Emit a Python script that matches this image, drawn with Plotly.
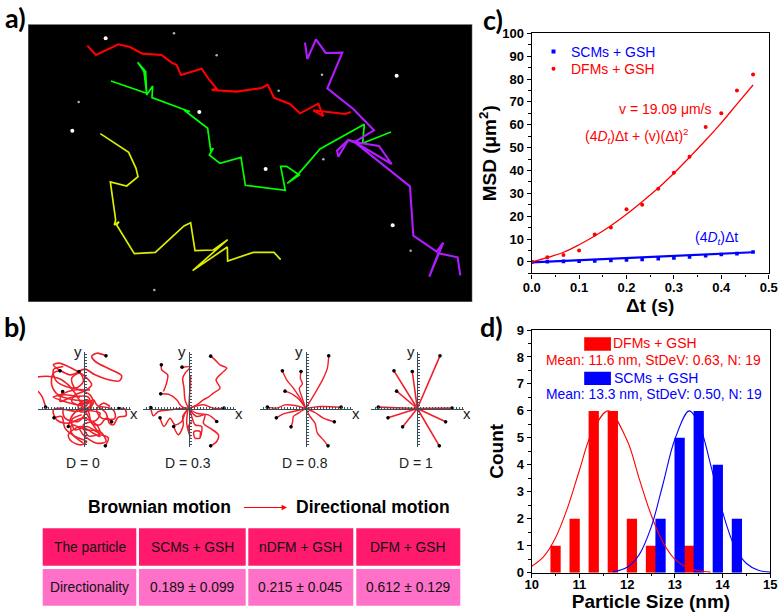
import plotly.graph_objects as go

W, H = 779, 612
SANS = "Liberation Sans"
RED, BLUE = "#FF0000", "#0000FF"

# ---------- panel a: trajectories, in reference-image coordinates ----------
track_red = [(262,137),(288,165),(355,133),(390,141),(427,161),(485,165),(515,188),(530,195),(543,225),(605,206),(628,240),(650,266),(635,270),(710,275),(785,264),(803,254),(822,293),(870,312),(900,340),(955,311),(970,348),(940,331),(1035,342),(1053,336)]
track_green = [(333,243),(440,280),(432,215),(413,187),(437,215),(440,285),(458,258),(456,293),(550,328),(570,335),(552,330),(623,385),(632,450),(640,445),(628,465),(660,490),(723,472),(736,556),(856,571),(842,499),(860,499),(898,525),(862,550),(897,520),(960,447),(1093,373),(1088,430),(1173,396)]
track_yellow = [(301,401),(386,457),(408,505),(414,530),(380,558),(331,546),(347,660),(343,675),(357,665),(350,675),(403,761),(466,757),(552,678),(572,668),(585,752),(640,750),(683,719),(578,812),(682,741),(683,783),(760,757),(822,757),(842,779)]
track_purple = [(915,128),(922,177),(948,118),(977,159),(1027,158),(982,265),(1060,327),(1122,391),(1062,427),(1045,420),(1015,470),(1011,452),(1045,420),(1085,430),(1137,438),(1175,492),(1062,425),(1230,559),(1240,707),(1310,755),(1330,728),(1288,830),(1315,760),(1373,772),(1381,826)]
stars_big = [(317,115),(217,392),(797,507),(1178,676),(598,336),(1190,227)]
stars_small = [(522,100),(650,166),(836,272),(966,224),(236,306),(970,478),(1232,752),(463,870)]

# ---------- panel b: simulated paths, endpoint first ----------
d0_paths = [
 [(318,138),(290,130),(275,140),(290,158),(330,178),(365,198),(358,213),(320,208),(285,195),(255,178),(237,185)],
 [(237,185),(210,195),(160,165),(175,160),(215,175),(255,200),(275,225),(250,245),(225,255),(215,275),(250,290)],
 [(137,292),(125,258),(100,228),(95,208),(125,200),(175,205),(205,225),(225,250),(252,296)],
 [(180,183),(160,190),(155,225),(175,255),(205,245),(235,240),(270,255),(280,280),(260,296)],
 [(188,245),(180,275),(215,262),(265,262),(270,290),(230,305),(190,300),(195,325),(235,335),(255,310),(252,296)],
 [(356,296),(375,298),(378,318),(355,322),(340,345),(328,340),(318,310),(290,285),(280,270),(252,296)],
 [(335,336),(318,325),(300,345),(275,340),(265,305),(252,296)],
 [(162,324),(185,320),(195,355),(225,380),(260,395),(245,405),(215,395),(205,375),(240,350),(280,370),(300,380),(270,330),(252,296)],
 [(205,350),(215,320),(240,295),(252,296)],
 [(316,408),(325,385),(300,375),(265,378),(250,345),(290,330),(300,310),(260,300),(252,296)],
]
d0_extra = [
 [(250,400),(215,370),(215,345),(255,360),(300,365),(318,395),(290,400),(250,375),(235,350)],
 [(175,258),(220,270),(270,275),(240,285),(185,272),(160,262),(190,255),(240,262)],
 [(190,170),(160,180),(170,215),(225,235),(250,215),(240,190),(215,205),(225,235),(270,240)],
 [(300,290),(340,300),(345,325),(305,325),(290,300),(310,280),(330,290)],
 [(235,285),(275,275),(270,300),(240,305),(235,285),(262,270),(275,290),(245,298)],
 [(190,295),(160,300),(170,330),(205,340),(250,325),(290,345),(300,370),(260,350),(225,360),(215,330),(245,315)],
]
d3_paths = [
 [(632,139),(645,150),(660,165),(680,175),(665,190),(648,210),(660,235),(640,250),(625,262),(610,270),(590,285),(566,296)],
 [(546,172),(570,172),(555,190),(548,205),(552,235),(555,270),(566,296)],
 [(484,165),(485,180),(503,195),(498,225),(490,245)],
 [(482,252),(510,255),(530,270),(545,290),(566,296)],
 [(452,293),(460,318),(475,305),(510,300),(540,296),(566,296)],
 [(480,324),(492,350),(510,325),(525,345),(545,335),(555,310),(566,296)],
 [(521,350),(535,375),(550,345),(548,320),(566,296)],
 [(632,408),(650,395),(655,375),(630,355),(610,340),(615,315),(590,320),(566,296)],
 [(650,335),(625,315),(590,310),(566,296)],
 [(672,295),(640,295),(610,285),(566,296)],
]
d3_extra = [[(600,385),(585,385),(582,365),(600,365),(600,385),(605,350),(585,345),(575,320),(566,296),(560,340),(570,380),(565,350),(575,335)],
            [(572,220),(570,240),(572,200),(566,296)]]
d8_paths = [
 [(266,138),(262,175),(250,205),(225,250),(197,296)],
 [(183,185),(181,205),(187,222),(178,235),(185,260),(197,296)],
 [(127,183),(140,210),(160,235),(180,265),(197,296)],
 [(135,244),(160,255),(178,270),(197,296)],
 [(82,292),(110,295),(135,285),(165,287),(197,296)],
 [(109,324),(130,312),(160,305),(197,296)],
 [(153,351),(158,335),(160,320),(175,310),(197,296)],
 [(264,408),(250,390),(232,370),(225,340),(210,320),(197,296)],
 [(283,336),(250,325),(225,308),(197,296)],
 [(303,292),(240,290),(197,296)],
]
d1_paths = [[p,(532,296)] for p in [(600,138),(517,185),(462,183),(470,244),(415,292),(444,324),(488,351),(598,408),(617,336),(636,295)]]
d_labels = ["D = 0","D = 0.3","D = 0.8","D = 1"]

# ---------- table ----------
table_header = ["The particle","SCMs + GSH","nDFM + GSH","DFM + GSH"]
table_row = ["Directionality","0.189 ± 0.099","0.215 ± 0.045","0.612 ± 0.129"]

# ---------- panel c ----------
msd_t = [0,0.033,0.067,0.1,0.133,0.167,0.2,0.233,0.267,0.3,0.333,0.367,0.4,0.433,0.467]
msd_dfm = [0,2,3,5,12,15,23,25,32,39,46,59,65,75,82]
msd_scm = [0,0.1,0.2,0.3,0.4,0.6,0.8,1.1,1.4,1.7,2.1,2.7,3.2,3.6,4.3]
fit_dfm = [0,1.9,4.2,7.5,11.3,15.8,20.8,26.3,32.3,38.8,45.8,53.2,60.8,69,77.4]
fit_scm = [-0.2,0.1,0.3,0.6,0.9,1.2,1.5,1.8,2.1,2.4,2.7,3.0,3.4,3.8,4.2]

# ---------- panel d ----------
size_dfm = [10.5,10.9,11.3,11.7,12.1,12.5,13.3]
count_dfm = [1,2,6,6,2,1,1]
size_scm = [12.7,13.1,13.5,13.9,14.3]
count_scm = [2,5,6,4,2]
curve_dfm_x = [10,10.25,10.5,10.75,11,11.25,11.6,12,12.25,12.5,12.75,13,13.25,13.5,13.75]
curve_dfm_y = [0.24,0.6,1.3,2.4,3.8,5.14,6,4.9,3.5,2.16,1.13,0.5,0.19,0.07,0.02]
curve_scm_x = [11.7,12,12.25,12.5,12.75,13,13.3,13.5,13.75,14,14.25,14.5,14.75,15]
curve_scm_y = [0.03,0.2,0.66,1.67,3.28,4.95,6,5.54,4,2.25,0.98,0.34,0.09,0.02]

def fx(px): return px / W
def fy(py): return 1 - py / H
def dom_x(a, b): return [fx(a), fx(b)]
def dom_y(top, bottom): return [fy(bottom), fy(top)]
def xs(p): return [q[0] for q in p]
def ys(p): return [q[1] for q in p]

fig = go.Figure()

# panel a
for tr, col, w in [(track_red,"#FF0000",2.1),(track_green,"#00FF00",1.7),(track_yellow,"#DDEE00",1.7),(track_purple,"#B01CFF",2.1)]:
    fig.add_trace(go.Scatter(x=xs(tr), y=ys(tr), mode="lines", line=dict(color=col, width=w), xaxis="x", yaxis="y"))
fig.add_trace(go.Scatter(x=xs(stars_big), y=ys(stars_big), mode="markers", marker=dict(color="white", size=4), xaxis="x", yaxis="y"))
fig.add_trace(go.Scatter(x=xs(stars_small), y=ys(stars_small), mode="markers", marker=dict(color="#AAB4B4", size=2.5), xaxis="x", yaxis="y"))

# panel b
groups = [(d0_paths, d0_extra, 252, 2, 1.6), (d3_paths, d3_extra, 566, 3, 1.5), (d8_paths, [], 197, 4, 1.4), (d1_paths, [], 532, 5, 1.6)]
b_centers_px = [84, 188.7, 305.7, 417.3]
layout_axes = {}
CY_PX = 408.7
for (paths, extra, c, n, lw), cpx, lab in zip(groups, b_centers_px, d_labels):
    for p in paths + extra:
        fig.add_trace(go.Scatter(x=xs(p), y=ys(p), mode="lines", line=dict(color="#F0202A", width=lw, shape="spline" if n < 5 else "linear", smoothing=0.9),
                                 xaxis=f"x{n}", yaxis=f"y{n}", cliponaxis=False))
    ends = [p[0] for p in paths]
    fig.add_trace(go.Scatter(x=xs(ends), y=ys(ends), mode="markers", marker=dict(color="black", size=3.6), xaxis=f"x{n}", yaxis=f"y{n}", cliponaxis=False))
    layout_axes[f"xaxis{n}"] = dict(domain=dom_x(cpx-46, cpx+47), range=[c-138, c+141], anchor="free", position=fy(CY_PX), automargin=False,
        showgrid=False, zeroline=False, showline=True, linecolor="#35505A", linewidth=1, ticks="inside", dtick=9, tick0=c, ticklen=2, tickcolor="#35505A", showticklabels=False)
    layout_axes[f"yaxis{n}"] = dict(domain=dom_y(351.5, 446.5), range=[410, 125], anchor="free", position=fx(cpx), automargin=False,
        showgrid=False, zeroline=False, showline=True, linecolor="#35505A", linewidth=1.3, ticks="inside", dtick=9, tick0=296, ticklen=2, tickcolor="#35505A", showticklabels=False)

# panel c
fig.add_trace(go.Scatter(x=msd_t, y=fit_scm, mode="lines", line=dict(color=BLUE, width=2.2), xaxis="x6", yaxis="y6"))
fig.add_trace(go.Scatter(x=msd_t, y=fit_dfm, mode="lines", line=dict(color=RED, width=1.3, shape="spline"), xaxis="x6", yaxis="y6"))
fig.add_trace(go.Scatter(x=msd_t, y=msd_scm, mode="markers", marker=dict(color=BLUE, size=3.6, symbol="square"), xaxis="x6", yaxis="y6"))
fig.add_trace(go.Scatter(x=msd_t, y=msd_dfm, mode="markers", marker=dict(color=RED, size=4), xaxis="x6", yaxis="y6"))
fig.add_trace(go.Scatter(x=[0.046], y=[92], mode="markers", marker=dict(color=BLUE, size=4, symbol="square"), xaxis="x6", yaxis="y6"))
fig.add_trace(go.Scatter(x=[0.046], y=[84.5], mode="markers", marker=dict(color=RED, size=4), xaxis="x6", yaxis="y6"))

# panel d
fig.add_trace(go.Bar(x=size_dfm, y=count_dfm, width=0.215, marker=dict(color=RED, line=dict(width=0)), xaxis="x7", yaxis="y7"))
fig.add_trace(go.Bar(x=size_scm, y=count_scm, width=0.215, marker=dict(color=BLUE, line=dict(width=0)), xaxis="x7", yaxis="y7"))
fig.add_trace(go.Scatter(x=curve_dfm_x, y=curve_dfm_y, mode="lines", line=dict(color=RED, width=1.1, shape="spline"), xaxis="x7", yaxis="y7"))
fig.add_trace(go.Scatter(x=curve_scm_x, y=curve_scm_y, mode="lines", line=dict(color=BLUE, width=1.1, shape="spline"), xaxis="x7", yaxis="y7"))

# text
def note(text, x, y, size, color="black", bold=False, xref="paper", yref="paper", family=SANS, **kw):
    if bold: text = f"<b>{text}</b>"
    return dict(text=text, x=x, y=y, xref=xref, yref=yref, showarrow=False, font=dict(family=family, size=size, color=color), xanchor="center", yanchor="middle", **kw)

anns = []
for t, px, py in [("a)",15,17),("b)",15,326),("c)",493,19),("d)",491,326)]:
    anns.append(note(t, fx(px), fy(py), 27, bold=True, family="Lato"))
for lab, cpx in zip(d_labels, b_centers_px):
    anns.append(note(lab, fx(cpx-1), fy(463), 14, color="#222222"))
    anns.append(note("x", fx(cpx+50), fy(413), 15, color="#222222"))
    anns.append(note("y", fx(cpx-6.5), fy(351), 15, color="#222222"))
anns.append(note("Brownian motion", fx(159.5), fy(507), 17.5, bold=True))
anns.append(note("Directional motion", fx(373), fy(507), 17.5, bold=True))
anns.append(dict(x=fx(287), y=fy(507.5), ax=-46, ay=0, xref="paper", yref="paper",
                 text=" ", showarrow=True, arrowhead=2, arrowsize=0.9, arrowwidth=1.2, arrowcolor=RED))
# c texts
anns += [
 note("SCMs + GSH", 0.1705, 92, 14, BLUE, xref="x6", yref="y6"),
 note("DFMs + GSH", 0.1705, 84.5, 14, RED, xref="x6", yref="y6"),
 note("v = 19.09 μm/s", 0.282, 67, 14, RED, xref="x6", yref="y6"),
 note("(4<i>D<sub>t</sub></i>)Δt + (v)(Δt)<sup>2</sup>", 0.2215, 55, 14, RED, xref="x6", yref="y6"),
 note("(4<i>D<sub>t</sub></i>)Δt", 0.39, 10.5, 14, BLUE, xref="x6", yref="y6"),
]
# d texts
anns += [
 note("DFMs + GSH", 12.59, 8.5, 14, RED, xref="x7", yref="y7"),
 note("Mean: 11.6 nm, StDeV: 0.63, N: 19", 12.56, 7.89, 13.9, RED, xref="x7", yref="y7"),
 note("SCMs + GSH", 12.6, 7.23, 14, BLUE, xref="x7", yref="y7"),
 note("Mean: 13.3 nm, StDeV: 0.50, N: 19", 12.56, 6.61, 13.9, BLUE, xref="x7", yref="y7"),
]

shapes = [
 dict(type="rect", xref="x", yref="y", x0=84, x1=1417, y0=73, y1=906, fillcolor="black", line=dict(color="#7E8E94", width=1), layer="below"),
 dict(type="rect", xref="x7", yref="y7", x0=11.1, x1=11.66, y0=8.23, y1=8.73, fillcolor=RED, line=dict(width=0)),
 dict(type="rect", xref="x7", yref="y7", x0=11.1, x1=11.66, y0=6.96, y1=7.45, fillcolor=BLUE, line=dict(width=0)),
]

# table: cells as rectangles with centred text
col_edges = [(42.7,136.3),(139,245.7),(248.3,353.3),(356.3,460.3)]
row_edges = [(528.3,565.7,"#FF1A6E",table_header),(569,605.7,"#FF70C8",table_row)]
for top, bot, col, labels in row_edges:
    for (l, r), lab in zip(col_edges, labels):
        shapes.append(dict(type="rect", xref="paper", yref="paper", x0=fx(l), x1=fx(r), y0=fy(top), y1=fy(bot), fillcolor=col, line=dict(width=0)))
        anns.append(note(lab, fx((l+r)/2), fy((top+bot)/2), 13.8, color="#101010"))

tickf = dict(family=SANS, size=13, color="black", weight=700)
def frame_axis(**kw):
    base = dict(showgrid=False, zeroline=False, showline=True, mirror=True, linecolor="black", linewidth=1.4, automargin=False,
                ticks="outside", ticklen=4, tickwidth=1.4, tickcolor="black", tickfont=tickf)
    base.update(kw)
    return base
def bold_title(t, standoff, size=19):
    return dict(text=f"<b>{t}</b>", font=dict(family=SANS, size=size, color="black"), standoff=standoff)

fig.update_layout(
    width=W, height=H, autosize=False, margin=dict(l=0, r=0, t=0, b=0), showlegend=False, barmode="overlay",
    paper_bgcolor="white", plot_bgcolor="white", font=dict(family=SANS),
    annotations=anns, shapes=shapes,
    xaxis=dict(domain=dom_x(28, 472.3), range=[84, 1417], visible=False, fixedrange=True),
    yaxis=dict(domain=dom_y(24.3, 302), range=[906, 73], visible=False, fixedrange=True),
    xaxis6=frame_axis(domain=dom_x(531.7, 768.7), range=[0, 0.5], anchor="y6", dtick=0.1, tickformat=".1f", ticklabelstandoff=-2,
                      minor=dict(ticks="outside", dtick=0.05, ticklen=2.5, tickwidth=1.2, tickcolor="black"),
                      title=bold_title("Δt (s)", 0)),
    yaxis6=frame_axis(domain=dom_y(33.3, 273.3), range=[-5, 100], anchor="x6", dtick=10,
                      minor=dict(ticks="outside", dtick=5, ticklen=2.5, tickwidth=1.2, tickcolor="black"),
                      title=bold_title("MSD (μm<sup>2</sup>)", 0)),
    xaxis7=frame_axis(domain=dom_x(531.7, 770.3), range=[10, 15], anchor="y7", dtick=1, ticklabelstandoff=-5,
                      minor=dict(ticks="outside", dtick=0.5, ticklen=2.5, tickwidth=1.2, tickcolor="black"),
                      title=bold_title("Particle Size (nm)", 6)),
    yaxis7=frame_axis(domain=dom_y(330, 572.7), range=[0, 9], anchor="x7", dtick=1,
                      minor=dict(ticks="outside", dtick=0.5, ticklen=2.5, tickwidth=1.2, tickcolor="black"),
                      title=bold_title("Count", 8)),
    **layout_axes,
)

fig.write_html("out.html", config={"displayModeBar": False}, post_script="document.body.style.margin='0';")
